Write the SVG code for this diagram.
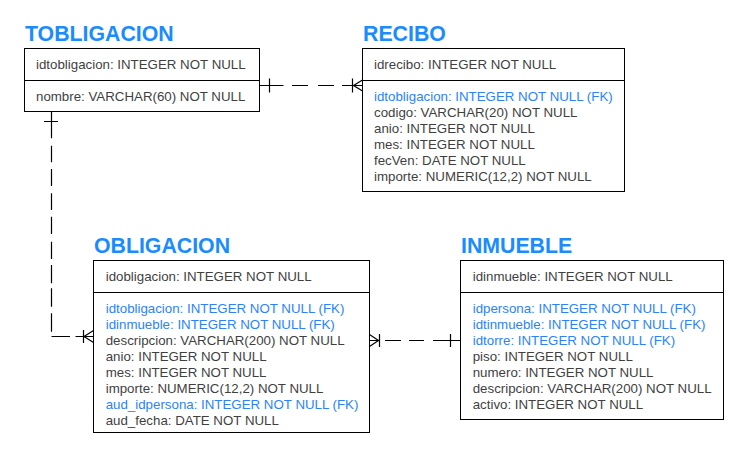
<svg xmlns="http://www.w3.org/2000/svg" width="754" height="452" viewBox="0 0 754 452">
<style>
.bg{fill:#ffffff}
.box{fill:#ffffff;stroke:#000000;stroke-width:1}
.div{stroke:#000000;stroke-width:1}
.title{font-family:"Liberation Sans",Arial,sans-serif;font-weight:bold;font-size:21.3px;fill:#1a8cff}
.f{font-family:"Liberation Sans",Arial,sans-serif;font-size:13.3px;fill:#3f3f3f}
.fk{fill:#2b82ff}
.c{fill:none;stroke:#000000;stroke-width:1.2}
</style>
<rect class="bg" x="0" y="0" width="754" height="452"/>

<g id="TOBLIGACION">
<text class="title" x="25" y="41">TOBLIGACION</text>
<rect class="box" x="24.5" y="48.5" width="235" height="63"/>
<line class="div" x1="24.5" y1="80.5" x2="259.5" y2="80.5"/>
<text class="f" x="36" y="69">idtobligacion: INTEGER NOT NULL</text>
<text class="f" x="36" y="101.3">nombre: VARCHAR(60) NOT NULL</text>
</g>

<g id="RECIBO">
<text class="title" x="363" y="41">RECIBO</text>
<rect class="box" x="362.5" y="48.5" width="262" height="143"/>
<line class="div" x1="362.5" y1="80.5" x2="624.5" y2="80.5"/>
<text class="f" x="374" y="69">idrecibo: INTEGER NOT NULL</text>
<text class="f fk" x="374" y="101.3">idtobligacion: INTEGER NOT NULL (FK)</text>
<text class="f" x="374" y="117.3">codigo: VARCHAR(20) NOT NULL</text>
<text class="f" x="374" y="133.3">anio: INTEGER NOT NULL</text>
<text class="f" x="374" y="149.3">mes: INTEGER NOT NULL</text>
<text class="f" x="374" y="165.3">fecVen: DATE NOT NULL</text>
<text class="f" x="374" y="181.3">importe: NUMERIC(12,2) NOT NULL</text>
</g>

<g id="OBLIGACION">
<text class="title" x="94" y="252.7">OBLIGACION</text>
<rect class="box" x="93.5" y="260.5" width="276" height="172"/>
<line class="div" x1="93.5" y1="292.5" x2="369.5" y2="292.5"/>
<text class="f" x="105.7" y="280.7">idobligacion: INTEGER NOT NULL</text>
<text class="f fk" x="105.7" y="313.3">idtobligacion: INTEGER NOT NULL (FK)</text>
<text class="f fk" x="105.7" y="329.3">idinmueble: INTEGER NOT NULL (FK)</text>
<text class="f" x="105.7" y="345.3">descripcion: VARCHAR(200) NOT NULL</text>
<text class="f" x="105.7" y="361.3">anio: INTEGER NOT NULL</text>
<text class="f" x="105.7" y="377.3">mes: INTEGER NOT NULL</text>
<text class="f" x="105.7" y="393.3">importe: NUMERIC(12,2) NOT NULL</text>
<text class="f fk" x="105.7" y="409.3">aud_idpersona: INTEGER NOT NULL (FK)</text>
<text class="f" x="105.7" y="425.3">aud_fecha: DATE NOT NULL</text>
</g>

<g id="INMUEBLE">
<text class="title" x="461" y="252.7">INMUEBLE</text>
<rect class="box" x="460.5" y="260.5" width="263" height="159"/>
<line class="div" x1="460.5" y1="292.5" x2="723.5" y2="292.5"/>
<text class="f" x="472.7" y="280.7">idinmueble: INTEGER NOT NULL</text>
<text class="f fk" x="472.7" y="313.3">idpersona: INTEGER NOT NULL (FK)</text>
<text class="f fk" x="472.7" y="329.3">idtinmueble: INTEGER NOT NULL (FK)</text>
<text class="f fk" x="472.7" y="345.3">idtorre: INTEGER NOT NULL (FK)</text>
<text class="f" x="472.7" y="361.3">piso: INTEGER NOT NULL</text>
<text class="f" x="472.7" y="377.3">numero: INTEGER NOT NULL</text>
<text class="f" x="472.7" y="393.3">descripcion: VARCHAR(200) NOT NULL</text>
<text class="f" x="472.7" y="409.3">activo: INTEGER NOT NULL</text>
</g>

<g id="connectors">
<!-- TOBLIGACION to RECIBO -->
<path id="rel_tobligacion_recibo" class="c" d="M259.5 85.5 H283.5 M292 85.5 H308 M318 85.5 H334 M342 85.5 H362.5 M269.5 78.5 V92.5 M352.5 78.5 V92.5 M353.5 85.5 L362.5 80 M353.5 85.5 L362.5 91"/>
<!-- TOBLIGACION to OBLIGACION -->
<path id="rel_tobligacion_obligacion" class="c" d="M51.5 111.5 V138.3 M44 121.5 H58 M51.5 145.7 V162.3 M51.5 169 V186 M51.5 193.3 V210 M51.5 216.7 V234 M51.5 241.7 V259 M51.5 265 V283.3 M51.5 288.3 V306.7 M51.5 313.3 V331.7 M51.5 336.5 H70 M75.5 336.5 H93.5 M83.5 330 V343 M84 336.5 L93.5 330.5 M84 336.5 L93.5 342.5"/>
<!-- OBLIGACION to INMUEBLE -->
<path id="rel_obligacion_inmueble" class="c" d="M369.5 340.5 H379 M378.5 340.5 L369.5 334.5 M378.5 340.5 L369.5 346.5 M379.5 334 V347 M385 340.5 H401 M409 340.5 H424 M433 340.5 H460.5 M450.5 334 V347"/>
</g>
</svg>
